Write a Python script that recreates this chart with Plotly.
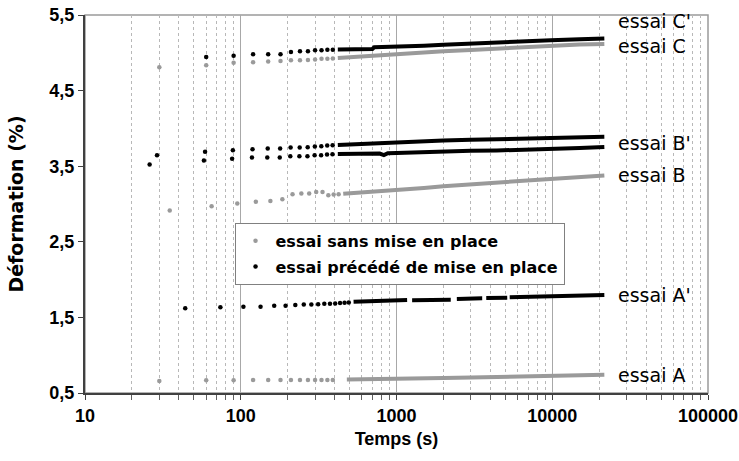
import math
import plotly.graph_objects as go

# ---- Essais de fluage : déformation (%) en fonction du temps (s) ----
# Premiers relevés (points isolés) puis relevés denses (trait continu).

# essai A (sans mise en place)
a_t = [30, 60, 90, 120, 150, 180, 210, 240, 270, 300, 330, 360, 390]
a_y = [0.659, 0.668, 0.670, 0.672, 0.672, 0.672, 0.672, 0.672, 0.672, 0.672, 0.672, 0.673, 0.673]
a_td = [480, 700, 1000, 1500, 2000, 3000, 4400, 6500, 9800, 15000, 21600]
a_yd = [0.680, 0.682, 0.685, 0.692, 0.700, 0.705, 0.710, 0.716, 0.725, 0.735, 0.742]

# essai B (sans mise en place)
b_t = [35, 65, 95, 125, 155, 185, 215, 245, 275, 305, 335, 365, 395, 425]
b_y = [2.915, 2.970, 3.007, 3.030, 3.040, 3.064, 3.130, 3.140, 3.140, 3.160, 3.160, 3.117, 3.126, 3.130]
b_td = [455, 600, 800, 1000, 1500, 2000, 3000, 4400, 6500, 9800, 15000, 21600]
b_yd = [3.135, 3.150, 3.170, 3.183, 3.212, 3.236, 3.258, 3.280, 3.303, 3.328, 3.355, 3.378]

# essai C (sans mise en place)
c_t = [30, 60, 90, 120, 150, 180, 210, 240, 270, 300, 330, 360, 390]
c_y = [4.810, 4.835, 4.868, 4.875, 4.885, 4.890, 4.900, 4.900, 4.905, 4.910, 4.920, 4.920, 4.925]
c_td = [420, 600, 800, 1000, 1500, 2000, 3000, 4400, 6500, 9800, 15000, 21600]
c_yd = [4.930, 4.950, 4.972, 4.990, 5.006, 5.020, 5.038, 5.056, 5.078, 5.098, 5.110, 5.118]

# essai A' (précédé de mise en place) - acquisition interrompue par endroits
ap_t = [44, 74, 104, 134, 164, 194, 224, 254, 284, 314, 344, 374, 404, 434, 464, 494]
ap_y = [1.620, 1.633, 1.641, 1.641, 1.654, 1.655, 1.663, 1.670, 1.672, 1.675, 1.680,
        1.682, 1.685, 1.690, 1.693, 1.697]
ap_td = [530, 800, 1170, None, 1260, 1700, 2230, None, 2440, 3550, None,
         3770, 5140, None, 5330, 8000, 12000, 21600]
ap_yd = [1.707, 1.716, 1.729, None, 1.728, 1.731, 1.735, None, 1.745, 1.752, None,
         1.755, 1.760, None, 1.765, 1.775, 1.785, 1.795]

# essai B' (précédé de mise en place) - courbe supérieure
bp_t = [29, 59, 89, 119, 149, 179, 209, 239, 269, 299, 329, 359, 389]
bp_y = [3.646, 3.690, 3.712, 3.725, 3.734, 3.734, 3.747, 3.747, 3.751, 3.760, 3.764, 3.773, 3.777]
bp_td = [420, 600, 800, 1000, 1500, 2000, 3000, 4400, 6500, 9800, 15000, 21600]
bp_yd = [3.780, 3.795, 3.810, 3.820, 3.832, 3.840, 3.849, 3.857, 3.866, 3.874, 3.882, 3.888]

# essai B' (précédé de mise en place) - courbe inférieure
b2_t = [26, 58, 88, 118, 148, 178, 208, 238, 268, 298, 328, 358, 388]
b2_y = [3.523, 3.576, 3.600, 3.615, 3.615, 3.615, 3.632, 3.632, 3.632, 3.645, 3.645, 3.655, 3.657]
b2_td = [420, 600, 780, 830, 880, 1000, 1500, 2000, 3000, 4400, 6500, 9800, 15000, 21600]
b2_yd = [3.660, 3.664, 3.668, 3.648, 3.672, 3.676, 3.690, 3.700, 3.704, 3.708, 3.716,
         3.725, 3.740, 3.755]

# essai C' (précédé de mise en place)
cp_t = [60, 90, 120, 150, 180, 210, 240, 270, 300, 330, 360, 390]
cp_y = [4.945, 4.960, 4.980, 4.980, 4.982, 5.010, 5.020, 5.020, 5.033, 5.035, 5.040, 5.040]
cp_td = [420, 600, 700, 720, 1000, 1500, 2000, 3000, 4400, 6500, 9800, 15000, 21600]
cp_yd = [5.043, 5.048, 5.050, 5.073, 5.077, 5.094, 5.108, 5.126, 5.143, 5.155, 5.166, 5.180, 5.190]

X_TICKS = [10, 100, 1000, 10000, 100000]
Y_TICKS = [0.5, 1.5, 2.5, 3.5, 4.5, 5.5]

LEGEND_GRAY = "essai sans mise en place"
LEGEND_BLACK = "essai précédé de mise en place"

GRAY = "#9a9a9a"
BLACK = "#000000"

fig = go.Figure()


def add_series(t, y, td, yd, color, name, show):
    fig.add_trace(go.Scatter(
        x=td, y=yd, mode="lines", line=dict(color=color, width=4),
        connectgaps=False, showlegend=False, hoverinfo="skip"))
    fig.add_trace(go.Scatter(
        x=t, y=y, mode="markers", name=name, legendgroup=name, showlegend=show,
        marker=dict(color=color, size=4.5, symbol="circle")))


add_series(a_t, a_y, a_td, a_yd, GRAY, LEGEND_GRAY, True)
add_series(b_t, b_y, b_td, b_yd, GRAY, LEGEND_GRAY, False)
add_series(c_t, c_y, c_td, c_yd, GRAY, LEGEND_GRAY, False)
add_series(ap_t, ap_y, ap_td, ap_yd, BLACK, LEGEND_BLACK, True)
add_series(bp_t, bp_y, bp_td, bp_yd, BLACK, LEGEND_BLACK, False)
add_series(b2_t, b2_y, b2_td, b2_yd, BLACK, LEGEND_BLACK, False)
add_series(cp_t, cp_y, cp_td, cp_yd, BLACK, LEGEND_BLACK, False)

# étiquettes en bout de courbe
LABEL_T = 25500
labels = [("essai C'", 5.417), ("essai C", 5.086), ("essai B'", 3.804),
          ("essai B", 3.381), ("essai A'", 1.795), ("essai A", 0.738)]
for text, yv in labels:
    fig.add_annotation(x=math.log10(LABEL_T), y=yv, xref="x", yref="y", text=text,
                       showarrow=False, xanchor="left", yanchor="middle",
                       font=dict(family="DejaVu Sans", size=19, color="#000"))

# cadre gris (haut et droite)
fig.add_shape(type="rect", xref="paper", yref="paper", x0=0, y0=0, x1=1, y1=1,
              line=dict(color="#9a9a9a", width=1.5), layer="between")

fig.update_layout(
    width=739, height=461, autosize=False,
    margin=dict(l=85, r=31, t=15, b=68),
    paper_bgcolor="white", plot_bgcolor="white",
    separators=", ",
    font=dict(family="Liberation Sans, Arial", size=18, color="#000"),
    legend=dict(x=0.24, y=0.45, xanchor="left", yanchor="top",
                bgcolor="white", bordercolor="#808080", borderwidth=1,
                font=dict(family="DejaVu Sans", size=16, color="#000", weight="bold"),
                tracegroupgap=2, itemsizing="trace"),
)

fig.update_xaxes(
    type="log", range=[1, 5], automargin=False,
    tickvals=X_TICKS, ticktext=[str(v) for v in X_TICKS],
    tickfont=dict(family="Liberation Sans, Arial", size=18, weight="bold"),
    ticks="outside", ticklen=5, tickcolor="#404040",
    showline=True, linecolor="#404040", linewidth=2,
    showgrid=True, gridcolor="#a8a8a8", gridwidth=1,
    minor=dict(ticks="outside", ticklen=5, tickcolor="#606060", dtick="D1",
               showgrid=True, gridcolor="#b8b8b8", griddash="dot", gridwidth=1),
    zeroline=False,
    title=dict(text="Temps (s)", font=dict(family="Liberation Sans, Arial", size=18, weight="bold"),
               standoff=8),
)

fig.update_yaxes(
    range=[0.5, 5.5], tickvals=Y_TICKS, tickformat=".1f", automargin=False,
    tickfont=dict(family="Liberation Sans, Arial", size=18, weight="bold"),
    ticks="outside", ticklen=5, tickcolor="#404040",
    showline=True, linecolor="#404040", linewidth=2,
    showgrid=False, zeroline=False,
    title=dict(text="Déformation (%)", font=dict(family="DejaVu Sans", size=19, weight="bold"),
               standoff=21),
)

fig.write_html("out.html")
